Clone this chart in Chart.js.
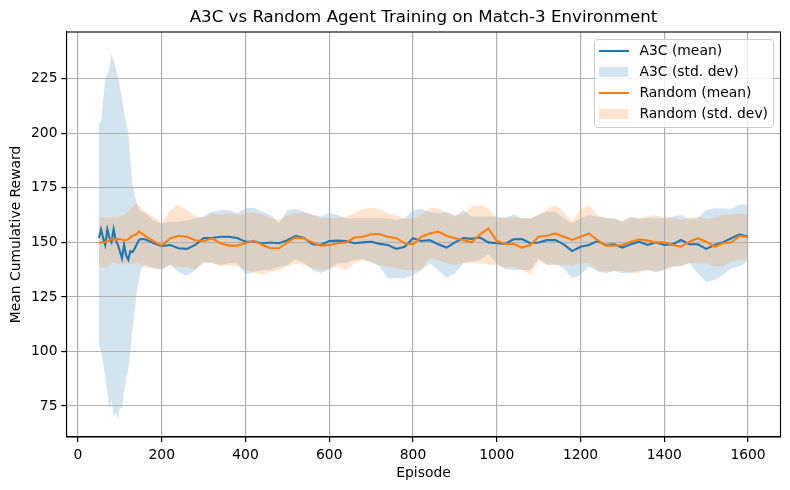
<!DOCTYPE html>
<html>
<head>
<meta charset="utf-8">
<script src="https://cdn.jsdelivr.net/npm/chart.js@4"></script>
<style>
body { margin: 0; background: #fff; }
canvas { display: block; }
</style>
</head>
<body>
<canvas id="myChart" width="790" height="490"></canvas>
<script>
var episodes = [50,55,60,65,70,75,80,85,90,95,100,105,110,115,120,125,130,135,140,145,150,155,160,
  180,200,220,240,260,280,300,
  320,340,360,380,400,420,440,460,480,500,520,540,560,
  580,600,620,640,660,680,700,720,740,760,780,800,820,
  840,860,880,900,920,940,960,980,1000,1020,1040,1060,1080,
  1100,1120,1140,1160,1180,1200,1220,1240,1260,1280,1300,1320,1340,
  1360,1380,1400,1420,1440,1460,1480,1500,1520,1540,1560,1580,1600];

var a3cMean = [152,156,152,148.8,156,152,150,156,151,149,146,142.7,149,144,142,146,145.5,147,149,151,151.5,151.5,151.4,
  149.7,148.3,148.8,147.3,147,148.8,152,
  152,152.6,152.6,152,150.3,150.3,149.6,149.9,149.6,151,153,152,149.1,
  148.8,150.6,150.8,150.6,149.6,150,150.3,149.3,148.8,147,148,151.9,150.6,
  151,149.1,147.6,150,152,151.6,152.2,150,149.6,149.3,151.4,151.5,149.6,
  149.9,151,151,149.1,146,148,148.8,150.6,148.8,149.1,147.6,149.1,150.3,
  148.8,150,148.8,149.1,151.1,149.1,149.1,147,148.8,150,151.9,153.7,152.6];

var a3cUpper = [204.6,205,215,224,227,230,236.6,233,230,226,221,216,209,205,200,188,177,171,168,165.5,164,164,163.4,
  160,158.7,159.4,159.4,160,161,162,
  164,164.8,164.8,163.3,165.6,165.9,164,162.5,158.7,164.8,165.3,164,162.8,
  161.8,163.3,162.5,161,161,161,161,161,161,160.2,161,164.8,165.3,
  164,163.3,164,161.8,164.8,161.8,161.8,161.8,161.8,161.3,162.8,161,161,
  162.5,164,164,161,158.7,161,162.5,161.8,161,161,159.8,161.8,160.7,
  161.3,161,161.3,161.8,162.5,160.7,161,164.8,165.6,165.6,165.3,167.4,167.1];

var a3cLower = [102.5,100,94.6,88,81,74,78,70,72,69,74,74,82,87,91.5,100,110,118,126.8,132,137.3,139,139.6,
  138.2,137.3,139.6,136.4,134.6,137.3,141,
  140.4,139.6,140.4,140.4,135.4,136.3,137.3,137.3,138.9,139.6,142.4,140.4,137.3,
  135.8,137.8,140.4,140.4,141.9,142.4,140.9,138.9,133.5,133.5,133.5,135,137.3,
  140.4,137.3,133.8,135.8,140.4,141.2,141.9,144.5,140.4,137.8,137.3,137.3,137.3,
  142.7,139.6,139.9,138.1,133.5,135,138.9,136.6,135.8,136.9,135.8,136.3,136.9,
  137.3,136.3,137.3,138.9,138.9,140.4,135.8,131.7,132.8,135,138.1,138.9,141.2];

var randomMean = [149.7,150,150,150.2,150.6,151,151.5,151.2,151.2,151.4,151.5,151.2,151,151.1,151.4,152.3,153,153.4,153.7,155,154.5,153.8,153,
  150.6,148.5,151.8,153,152.6,151,150.6,
  151.8,149.6,148.5,148.5,149.6,150.8,148.8,147.3,147.3,150,152.3,151.8,150,
  148.5,148.8,149.6,150,152.2,152.6,153.7,153.7,152.6,151.9,149.6,149.1,152.6,
  154.1,154.9,153,151.9,151.1,149.9,153.7,156.4,150.6,149.3,149.3,147.6,148.8,
  152.6,153,154.1,152.6,151.1,152.6,154.1,151.1,148.5,148.5,148.8,150.3,151.4,
  150.8,150,150,148.8,148,150.3,151.9,150.3,148,149.6,149.9,153,152.3];

var randomUpper = [161.3,161.4,161.5,161.5,161.5,161.3,161.5,161.8,161.5,161.6,161.8,162.3,162.5,163.4,164,165,166,167.5,167.9,167,166,165,164,
  161.8,158.7,164.8,167.1,164.8,161.8,161,
  163.3,162.5,163.3,162.5,163.3,163.8,162.5,161.3,160.2,162.5,163.3,163.8,162.5,
  161.3,161,161.3,161.8,163.3,165.3,165.9,165.3,163.3,162.5,160.7,161,162.5,
  165.6,165.6,163.3,162.5,162.8,166.4,167.1,165.6,161,161,161.3,161.3,160.7,
  162.8,165.3,167.1,164,159.5,165.3,167.1,162.5,161.3,160.7,159.5,161.3,161,
  161.8,162.5,161.3,161,160.2,161,161.8,160.7,161,162.5,162.8,163.3,162.5];

var randomLower = [138.7,138.5,138.6,138.8,138.6,139.5,140.5,140.6,140.2,140,140,140.2,140,139.8,140,140.2,140.2,140.5,140.5,140,139.6,139,138.7,
  138,138,139.6,138.7,138.7,137.6,140.5,
  141,138.9,139.6,138.9,137.3,136.3,135,136.6,137.3,138.9,140.4,139.6,138.1,
  137.3,137.8,138.9,137.3,140.4,141.9,141.2,139.6,138.9,138.1,137.3,137.3,137.3,
  142.7,141.9,140.4,139.6,140.4,140.4,140.4,139.9,139.6,138.4,138.9,137.3,135.4,
  141.2,139.6,139.6,139.9,139.3,140.4,140.4,137.3,136.6,136.9,136.9,135.8,136.3,
  137.3,136.9,137.3,138.9,139.6,140.4,140.4,140.4,138.9,138.9,141.2,141.9,142.4];

var xTicks = [0,200,400,600,800,1000,1200,1400,1600];
var yTicks = [75,100,125,150,175,200,225];
var legendNames = ['A3C (mean)','A3C (std. dev)','Random (mean)','Random (std. dev)'];
var titleText = 'A3C vs Random Agent Training on Match-3 Environment';

var BLUE = '#1f77b4', ORANGE = '#ff7f0e';
var BLUE_FILL = 'rgba(31,119,180,0.2)', ORANGE_FILL = 'rgba(255,127,14,0.2)';
var FONT = '"DejaVu Sans"';

function pts(values) {
  return values.map(function (v, i) { return { x: episodes[i], y: v }; });
}
function meanLine(name, values, color, order) {
  return { label: name, data: pts(values), borderColor: color, borderWidth: 2.1, pointRadius: 0, fill: false, order: order };
}
function bandEdge(name, values, fill, order, to) {
  return { label: name, data: pts(values), borderWidth: 0, borderColor: 'transparent', backgroundColor: fill, pointRadius: 0, fill: to, order: order };
}

// grid goes above the bands but under the mean lines, and the legend sits inside the axes
var overlay = {
  id: 'overlay',
  beforeDatasetDraw: function (chart, args) {
    if (args.meta.label === legendNames[0]) {
      chart.scales.x.drawGrid(chart.chartArea);
      chart.scales.y.drawGrid(chart.chartArea);
    }
  },
  afterDraw: function (chart) {
    var c = chart.ctx, a = chart.chartArea;
    c.save();
    c.strokeStyle = '#000';
    c.lineWidth = 1.1;
    c.strokeRect(a.left, a.top, a.right - a.left, a.bottom - a.top);

    c.fillStyle = '#000';
    c.textAlign = 'center';
    c.textBaseline = 'middle';
    c.font = '16.67px ' + FONT;
    c.fillText(titleText, (a.left + a.right) / 2, 18);

    c.beginPath();
    c.roundRect(594.5, 39.5, 179, 88, 3);
    c.fillStyle = 'rgba(255,255,255,0.8)';
    c.fill();
    c.strokeStyle = '#cccccc';
    c.lineWidth = 1;
    c.stroke();

    var rows = [51, 72, 93, 114];
    var colors = [BLUE, BLUE_FILL, ORANGE, ORANGE_FILL];
    c.textAlign = 'left';
    c.font = '13.89px ' + FONT;
    legendNames.forEach(function (name, i) {
      if (i % 2 === 0) {
        c.strokeStyle = colors[i];
        c.lineWidth = 2.1;
        c.beginPath();
        c.moveTo(599, rows[i]);
        c.lineTo(629, rows[i]);
        c.stroke();
      } else {
        c.fillStyle = colors[i];
        c.fillRect(599, rows[i] - 5, 29, 10);
      }
      c.fillStyle = '#000';
      c.fillText(name, 639.5, rows[i] + 0.5);
    });
    c.restore();
  }
};

var ctx = document.getElementById('myChart').getContext('2d');
var chart = new Chart(ctx, {
  type: 'line',
  data: {
    datasets: [
      meanLine(legendNames[0], a3cMean, BLUE, 2),
      bandEdge(legendNames[1], a3cUpper, BLUE_FILL, 6, '+1'),
      bandEdge('a3c lower', a3cLower, BLUE_FILL, 5, false),
      meanLine(legendNames[2], randomMean, ORANGE, 1),
      bandEdge(legendNames[3], randomUpper, ORANGE_FILL, 4, '+1'),
      bandEdge('random lower', randomLower, ORANGE_FILL, 3, false)
    ]
  },
  plugins: [overlay],
  options: {
    responsive: false,
    animation: false,
    devicePixelRatio: 1,
    layout: { padding: { left: 0, right: 9.5, top: 32, bottom: 0 } },
    plugins: { legend: { display: false }, title: { display: false }, tooltip: { enabled: false } },
    scales: {
      x: {
        type: 'linear',
        min: -27.5,
        max: 1677.5,
        afterBuildTicks: function (s) { s.ticks = xTicks.map(function (v) { return { value: v }; }); },
        afterFit: function (s) { s.height = 53; },
        grid: { color: '#b0b0b0', lineWidth: 1.1, tickColor: '#000', tickLength: 5 },
        border: { color: '#000', width: 1.1 },
        ticks: { color: '#000', maxRotation: 0, autoSkip: false, padding: 5, callback: function (v) { return String(v); }, font: { family: FONT, size: 13.89 } },
        title: { display: true, text: 'Episode', color: '#000', padding: { top: 3, bottom: 8 }, font: { family: FONT, size: 13.89 } }
      },
      y: {
        type: 'linear',
        min: 60.8,
        max: 246.4,
        afterBuildTicks: function (s) { s.ticks = yTicks.map(function (v) { return { value: v }; }); },
        afterFit: function (s) { s.width = 66.5; },
        grid: { color: '#b0b0b0', lineWidth: 1.1, tickColor: '#000', tickLength: 5 },
        border: { color: '#000', width: 1.1 },
        ticks: { color: '#000', autoSkip: false, padding: 4, font: { family: FONT, size: 13.89 } },
        title: { display: true, text: 'Mean Cumulative Reward', color: '#000', padding: { top: 8, bottom: 0 }, font: { family: FONT, size: 13.89 } }
      }
    }
  }
});
</script>
</body>
</html>
